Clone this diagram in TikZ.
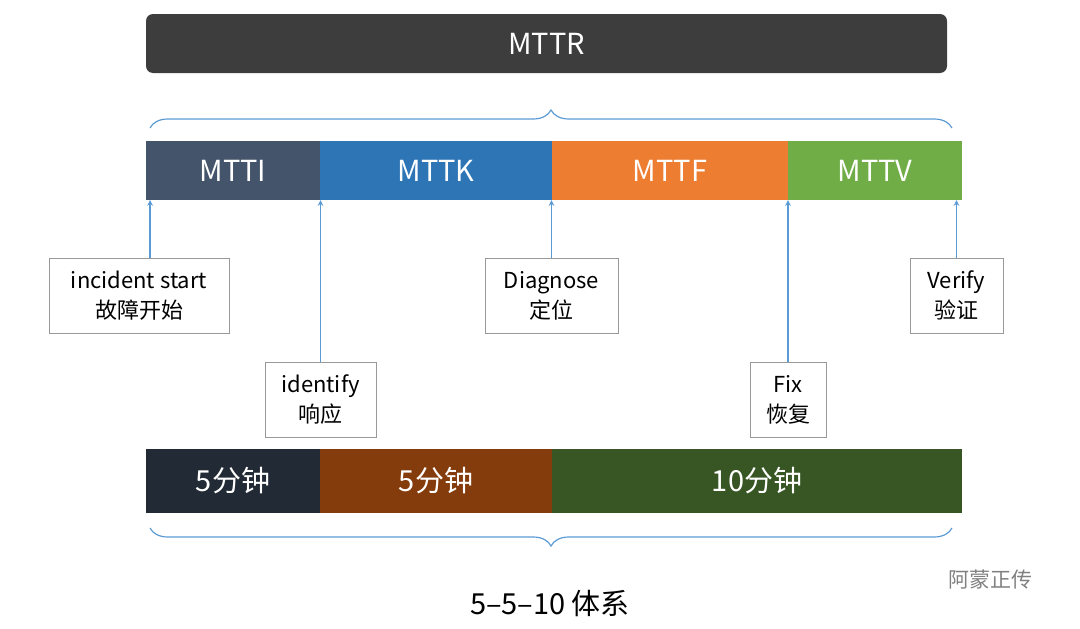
\documentclass[tikz,border=0pt]{standalone}
\usepackage{fontspec}
\setmainfont{Noto Sans CJK SC}
\usetikzlibrary{positioning,calc,decorations.pathreplacing}
\definecolor{darkbox}{HTML}{3D3D3D}
\definecolor{cMTTI}{HTML}{44546A}
\definecolor{cMTTK}{HTML}{2E75B6}
\definecolor{cMTTF}{HTML}{ED7D31}
\definecolor{cMTTV}{HTML}{70AD47}
\definecolor{cA}{HTML}{222A35}
\definecolor{cB}{HTML}{843C0C}
\definecolor{cC}{HTML}{375623}
\definecolor{arrowblue}{HTML}{5B9BD5}
\begin{document}
\begin{tikzpicture}[
    x=1pt, y=-1pt,
    bar/.style={draw=none, inner sep=0pt, text=white, font=\fontsize{29}{32}\selectfont},
    tag/.style={draw=gray!80, fill=white, line width=1pt, inner sep=0pt, align=center, font=\fontsize{22}{30}\selectfont},
    up/.style={->, >=stealth, draw=arrowblue, line width=1.5pt},
    brace/.style={decorate, decoration={brace, amplitude=18pt}, draw=arrowblue, line width=1.2pt}
]
\useasboundingbox (0,0) rectangle (1080,629);

% MTTR header
\node[bar, fill=darkbox, rounded corners=7pt, minimum width=801, minimum height=59] (mttr) at (546.5,43.5) {MTTR};
\draw[brace] (150,128) -- (952,128);

% phase bars
\node[bar, fill=cMTTI, minimum width=174, minimum height=59] (mtti) at (233,170.5) {MTTI};
\node[bar, fill=cMTTK, minimum width=232, minimum height=59] (mttk) at (436,170.5) {MTTK};
\node[bar, fill=cMTTF, minimum width=236, minimum height=59] (mttf) at (670,170.5) {MTTF};
\node[bar, fill=cMTTV, minimum width=174, minimum height=59] (mttv) at (875,170.5) {MTTV};

% event labels
\node[tag, minimum width=180, minimum height=75] (start) at (139,295.5) {incident start\\故障开始};
\node[tag, minimum width=133, minimum height=75] (diag) at (551.5,295.5) {Diagnose\\定位};
\node[tag, minimum width=93, minimum height=75] (verify) at (956.5,295.5) {Verify\\验证};
\node[tag, minimum width=111, minimum height=75] (ident) at (320.5,399.5) {identify\\响应};
\node[tag, minimum width=76, minimum height=75] (fix) at (788,399.5) {Fix\\恢复};

% arrows to the bars
\draw[up] (start.north -| 150,0) -- (150,200);
\draw[up] (ident.north) -- (ident.north |- mtti.south);
\draw[up] (diag.north) -- (diag.north |- mttk.south);
\draw[up] (fix.north) -- (fix.north |- mttf.south);
\draw[up] (verify.north) -- (verify.north |- mttv.south);

% time bars
\node[bar, fill=cA, minimum width=174, minimum height=64] (t1) at (233,481) {5分钟};
\node[bar, fill=cB, minimum width=232, minimum height=64] (t2) at (436,481) {5分钟};
\node[bar, fill=cC, minimum width=410, minimum height=64] (t3) at (757,481) {10分钟};
\draw[brace] (952,528) -- (150,528);
\node[font=\fontsize{29}{32}\selectfont] (sys) at (550,603) {5--5--10 体系};

% watermark
\node[text=gray, font=\fontsize{21}{24}\selectfont] (mark) at (990,580) {阿蒙正传};
\end{tikzpicture}
\end{document}
